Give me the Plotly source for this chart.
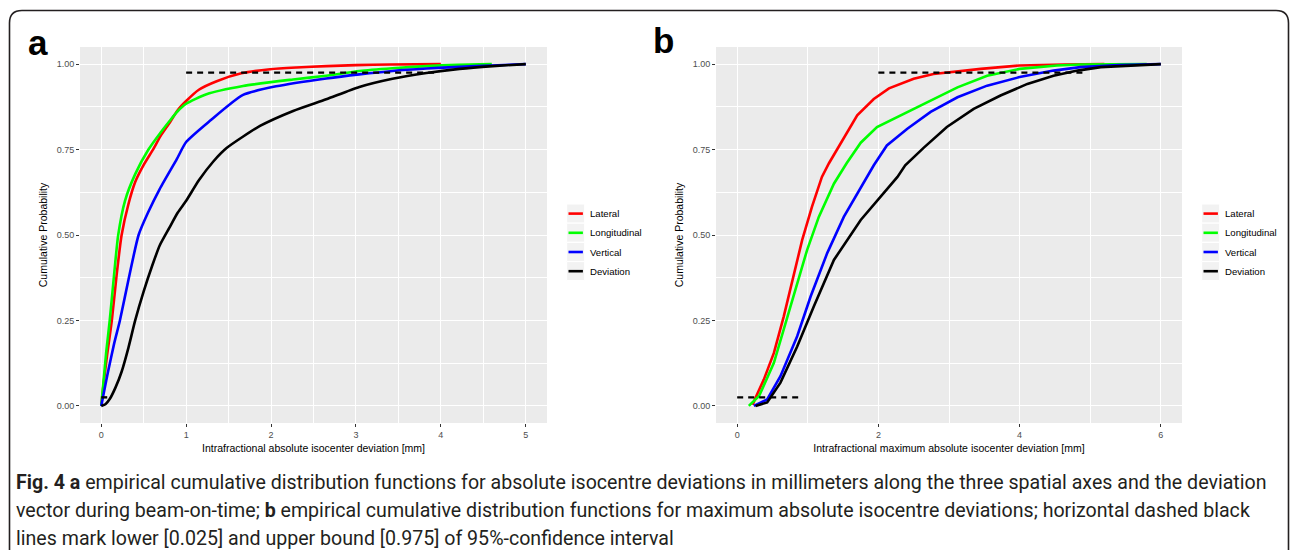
import plotly.graph_objects as go

W, H = 1290, 550

series_names = ["Lateral", "Longitudinal", "Vertical", "Deviation"]
series_colors = ["#FF0000", "#00FF00", "#0000FF", "#000000"]

# ---- Panel a: absolute isocenter deviation [mm] ----
a_lat_x = [0, 0.03, 0.07, 0.125, 0.18, 0.24, 0.32, 0.4, 0.5, 0.61, 0.7, 0.81, 0.9, 1.0, 1.15, 1.36, 1.65, 1.99, 2.3, 2.65, 3.0, 3.4, 4.0]
a_lat_y = [0, 0.07, 0.15, 0.25, 0.38, 0.5, 0.59, 0.655, 0.705, 0.75, 0.79, 0.83, 0.865, 0.892, 0.925, 0.95, 0.973, 0.985, 0.99, 0.994, 0.997, 0.999, 1.0]
a_lon_x = [0, 0.03, 0.06, 0.1, 0.15, 0.2, 0.28, 0.4, 0.556, 0.7, 0.81, 0.9, 1.0, 1.24, 1.67, 2.26, 2.65, 3.04, 3.43, 3.83, 4.2, 4.6]
a_lon_y = [0, 0.08, 0.16, 0.25, 0.38, 0.5, 0.6, 0.678, 0.75, 0.8, 0.835, 0.862, 0.884, 0.912, 0.936, 0.955, 0.966, 0.98, 0.988, 0.994, 0.998, 1.0]
a_ver_x = [0, 0.04, 0.08, 0.15, 0.22, 0.33, 0.44, 0.55, 0.69, 0.89, 1.0, 1.28, 1.67, 2.06, 2.65, 3.04, 3.43, 3.83, 4.22, 4.6, 5.0]
a_ver_y = [0, 0.05, 0.1, 0.18, 0.25, 0.38, 0.5, 0.565, 0.635, 0.722, 0.772, 0.834, 0.91, 0.935, 0.958, 0.97, 0.98, 0.987, 0.992, 0.996, 1.0]
a_dev_x = [0, 0.05, 0.1, 0.17, 0.24, 0.32, 0.4, 0.5, 0.6, 0.69, 0.8, 0.9, 1.0, 1.15, 1.32, 1.48, 1.87, 2.26, 2.65, 3.04, 3.43, 3.83, 4.22, 4.61, 5.0]
a_dev_y = [0, 0.005, 0.02, 0.055, 0.1, 0.17, 0.25, 0.335, 0.41, 0.47, 0.52, 0.565, 0.6, 0.66, 0.715, 0.755, 0.819, 0.863, 0.897, 0.933, 0.957, 0.974, 0.986, 0.994, 1.0]
a_ci_lower_x = [0, 0.1]
a_ci_upper_x = [1.0, 3.98]

# ---- Panel b: maximum absolute isocenter deviation [mm] ----
b_lat_x = [0.22, 0.26, 0.377, 0.52, 0.66, 0.8, 0.92, 1.06, 1.2, 1.3, 1.46, 1.7, 1.935, 2.15, 2.5, 2.78, 3.45, 4.0, 4.63, 5.2]
b_lat_y = [0.003, 0.024, 0.077, 0.155, 0.262, 0.378, 0.485, 0.583, 0.67, 0.71, 0.767, 0.85, 0.898, 0.929, 0.957, 0.971, 0.986, 0.996, 0.999, 1.0]
b_lon_x = [0.165, 0.31, 0.52, 0.684, 0.85, 0.99, 1.156, 1.37, 1.55, 1.75, 1.98, 2.36, 2.74, 3.12, 3.54, 4.0, 4.53, 4.86, 5.8]
b_lon_y = [0.0, 0.029, 0.126, 0.243, 0.359, 0.456, 0.553, 0.65, 0.71, 0.77, 0.816, 0.855, 0.894, 0.932, 0.966, 0.986, 0.996, 0.999, 1.0]
b_ver_x = [0.236, 0.425, 0.613, 0.85, 1.04, 1.275, 1.51, 1.79, 1.935, 2.12, 2.41, 2.74, 3.12, 3.54, 4.0, 4.48, 4.86, 5.4, 6.0]
b_ver_y = [0.0, 0.019, 0.087, 0.204, 0.32, 0.447, 0.553, 0.651, 0.704, 0.762, 0.811, 0.86, 0.903, 0.937, 0.962, 0.981, 0.991, 0.997, 1.0]
b_dev_x = [0.26, 0.425, 0.613, 0.85, 1.085, 1.37, 1.75, 2.03, 2.27, 2.38, 2.64, 2.97, 3.35, 3.73, 4.11, 4.48, 4.82, 5.15, 6.0]
b_dev_y = [0.0, 0.01, 0.068, 0.174, 0.291, 0.427, 0.544, 0.612, 0.67, 0.704, 0.755, 0.816, 0.869, 0.908, 0.942, 0.966, 0.981, 0.991, 1.0]
b_ci_lower_x = [0, 0.9]
b_ci_upper_x = [2.0, 4.95]

ci_levels = [0.025, 0.975]

a_xticks = [0, 1, 2, 3, 4, 5]
b_xticks = [0, 2, 4, 6]
y_ticks = [0, 0.25, 0.5, 0.75, 1.0]
y_ticklabels = ["0.00", "0.25", "0.50", "0.75", "1.00"]

a_xtitle = "Intrafractional absolute isocenter deviation [mm]"
b_xtitle = "Intrafractional maximum absolute isocenter deviation [mm]"
y_title = "Cumulative Probability"

caption_lines = [
    "<b>Fig. 4 a</b> empirical cumulative distribution functions for absolute isocentre deviations in millimeters along the three spatial axes and the deviation",
    "vector during beam-on-time; <b>b</b> empirical cumulative distribution functions for maximum absolute isocentre deviations; horizontal dashed black",
    "lines mark lower [0.025] and upper bound [0.975] of 95%-confidence interval",
]

def px(x):
    return x / W

def py(y):
    return 1 - y / H

fig = go.Figure()

a_series = [(a_lat_x, a_lat_y), (a_lon_x, a_lon_y), (a_ver_x, a_ver_y), (a_dev_x, a_dev_y)]
b_series = [(b_lat_x, b_lat_y), (b_lon_x, b_lon_y), (b_ver_x, b_ver_y), (b_dev_x, b_dev_y)]

for (xs, ys), name, col in zip(a_series, series_names, series_colors):
    fig.add_trace(go.Scatter(x=xs, y=ys, mode="lines", name=name, showlegend=False,
                             line=dict(color=col, width=2.6, shape="spline", smoothing=0.6), xaxis="x", yaxis="y"))
for xs, lvl in zip([a_ci_lower_x, a_ci_upper_x], ci_levels):
    fig.add_trace(go.Scatter(x=xs, y=[lvl, lvl], mode="lines", showlegend=False,
                             line=dict(color="black", width=2.4, dash="6px,5px"), xaxis="x", yaxis="y"))

for (xs, ys), name, col in zip(b_series, series_names, series_colors):
    fig.add_trace(go.Scatter(x=xs, y=ys, mode="lines", name=name, showlegend=False,
                             line=dict(color=col, width=2.6), xaxis="x2", yaxis="y2"))
for xs, lvl in zip([b_ci_lower_x, b_ci_upper_x], ci_levels):
    fig.add_trace(go.Scatter(x=xs, y=[lvl, lvl], mode="lines", showlegend=False,
                             line=dict(color="black", width=2.4, dash="6px,5px"), xaxis="x2", yaxis="y2"))

tickfont = dict(family="Liberation Sans, Arial, sans-serif", size=9, color="#4D4D4D")
titlefont = dict(family="Liberation Sans, Arial, sans-serif", size=10.5, color="#000000")

def xaxis_cfg(domain, rng, ticks, dtick_minor, anchor, title):
    return dict(domain=domain, range=rng, tickvals=ticks, ticktext=[str(t) for t in ticks],
                showgrid=True, gridcolor="white", gridwidth=1.1, zeroline=False,
                ticks="outside", ticklen=3, tickcolor="#333333", tickwidth=1,
                tickfont=tickfont, showline=False, anchor=anchor,
                minor=dict(tick0=0, dtick=dtick_minor, showgrid=True, gridcolor="white", gridwidth=0.5, ticks=""),
                title=dict(text=title, font=titlefont, standoff=5), fixedrange=True)

def yaxis_cfg(domain, anchor):
    return dict(domain=domain, range=[-0.05, 1.05], tickvals=y_ticks, ticktext=y_ticklabels,
                showgrid=True, gridcolor="white", gridwidth=1.1, zeroline=False,
                ticks="outside", ticklen=3, tickcolor="#333333", tickwidth=1,
                tickfont=tickfont, showline=False, anchor=anchor,
                minor=dict(tick0=0, dtick=0.125, showgrid=True, gridcolor="white", gridwidth=0.5, ticks=""),
                title=dict(text=y_title, font=titlefont, standoff=6), fixedrange=True)

ydom = [py(423), py(47)]
fig.update_layout(
    width=W, height=H,
    margin=dict(l=0, r=0, t=0, b=0),
    paper_bgcolor="white",
    plot_bgcolor="#EBEBEB",
    showlegend=False,
    xaxis=xaxis_cfg([px(80), px(547)], [-0.25, 5.25], a_xticks, 0.5, "y", a_xtitle),
    yaxis=yaxis_cfg(ydom, "x"),
    xaxis2=xaxis_cfg([px(716), px(1182)], [-0.3, 6.3], b_xticks, 1, "y2", b_xtitle),
    yaxis2=yaxis_cfg(ydom, "x2"),
)

shapes = []
annotations = []

# Manual ggplot-style legends
for lx in [566.7, 1201.7]:
    for i, (name, col) in enumerate(zip(series_names, series_colors)):
        top = 204 + i * 19.2
        shapes.append(dict(type="rect", xref="paper", yref="paper",
                           x0=px(lx), x1=px(lx + 18), y0=py(top + 19), y1=py(top),
                           fillcolor="#F2F2F2", line=dict(color="white", width=1), layer="above"))
        shapes.append(dict(type="line", xref="paper", yref="paper",
                           x0=px(lx + 1.8), x1=px(lx + 16.2), y0=py(top + 9.6), y1=py(top + 9.6),
                           line=dict(color=col, width=2.6), layer="above"))
        annotations.append(dict(text=name, xref="paper", yref="paper", x=px(lx + 21.5), y=py(top + 9.6),
                                xanchor="left", yanchor="middle", showarrow=False,
                                font=dict(family="Liberation Sans, Arial, sans-serif", size=9.6, color="#000000")))

# panel letters
annotations.append(dict(text="<b>a</b>", xref="paper", yref="paper", x=px(26), y=py(42),
                        xanchor="left", yanchor="middle", showarrow=False,
                        font=dict(family="Liberation Sans, Arial, sans-serif", size=35, color="#000000")))
annotations.append(dict(text="<b>b</b>", xref="paper", yref="paper", x=px(651), y=py(40),
                        xanchor="left", yanchor="middle", showarrow=False,
                        font=dict(family="Liberation Sans, Arial, sans-serif", size=35, color="#000000")))

# caption
for i, line in enumerate(caption_lines):
    annotations.append(dict(text=line, xref="paper", yref="paper", x=px(14), y=py(482 + i * 28),
                            xanchor="left", yanchor="middle", showarrow=False,
                            font=dict(family="Roboto, sans-serif", size=19.6, color="#231F20")))

# rounded frame
def P(x, y):
    return f"{px(x)},{py(y)}"

path = (f"M {P(9.5, 560)} L {P(9.5, 23)} Q {P(9.5, 10.5)} {P(22, 10.5)} "
        f"L {P(1276, 10.5)} Q {P(1288.5, 10.5)} {P(1288.5, 23)} L {P(1288.5, 560)}")
shapes.append(dict(type="path", xref="paper", yref="paper", path=path,
                   line=dict(color="#231F20", width=1.6)))

fig.update_layout(shapes=shapes, annotations=annotations)

fig.write_html("out.html", config={"displayModeBar": False},
               post_script="document.body.style.margin='0px';document.body.style.overflow='hidden';")
